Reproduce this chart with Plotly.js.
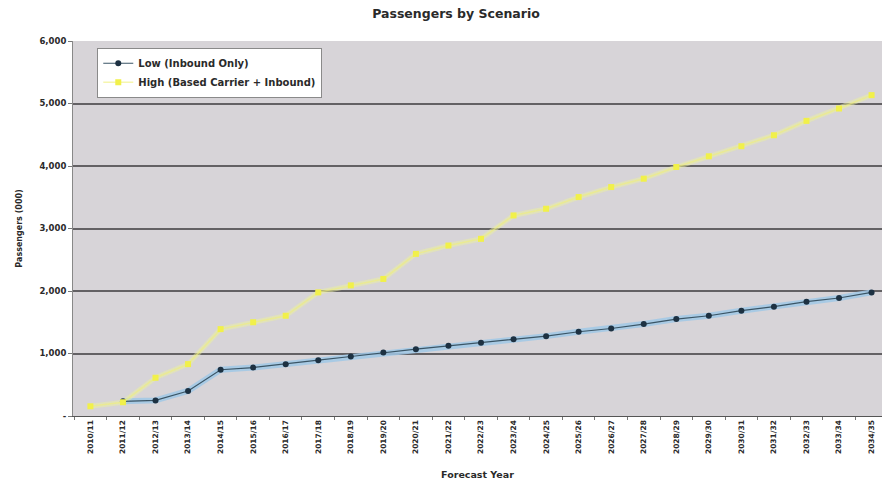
<!DOCTYPE html>
<html>
<head>
<meta charset="utf-8">
<script src="https://cdn.plot.ly/plotly-3.0.1.min.js"></script>
<style>
  html, body { margin: 0; padding: 0; background: #ffffff; overflow: hidden; }
  #chart { width: 882px; height: 486px; }
</style>
</head>
<body>
<div id="chart"></div>
<script>
// Forecast years (fiscal)
const years = [
  '2010/11','2011/12','2012/13','2013/14','2014/15','2015/16','2016/17','2017/18',
  '2018/19','2019/20','2020/21','2021/22','2022/23','2023/24','2024/25','2025/26',
  '2026/27','2027/28','2028/29','2029/30','2030/31','2031/32','2032/33','2033/34','2034/35'
];

// Passengers (000) – Low scenario (inbound only)
const lowPassengers = [
  null, 235, 250, 400, 740, 775, 830, 893, 952, 1016, 1070, 1123, 1171,
  1230, 1278, 1348, 1400, 1471, 1551, 1604, 1685, 1749, 1829, 1888, 1978
];

// Passengers (000) – High scenario (based carrier + inbound)
const highPassengers = [
  155, 220, 612, 830, 1390, 1500, 1604, 1978, 2090, 2193, 2594, 2727, 2835,
  3209, 3316, 3503, 3663, 3797, 3984, 4155, 4316, 4492, 4722, 4920, 5134
];

const seriesNames = ['Low (Inbound Only)', 'High (Based Carrier + Inbound)'];

const yTickVals = [0, 1000, 2000, 3000, 4000, 5000, 6000];
const yTickText = ['-', '1,000', '2,000', '3,000', '4,000', '5,000', '6,000'];

const FAMILY = 'DejaVu Sans, Liberation Sans, Arial, sans-serif';
const font = (size) => ({ family: FAMILY, size: size, color: '#2a2a2a', weight: 'bold' });

const traces = [
  // soft halo under the low line
  {
    x: years, y: lowPassengers, type: 'scatter', mode: 'lines',
    line: { color: 'rgba(160,200,230,0.85)', width: 6 },
    hoverinfo: 'skip', showlegend: false
  },
  // soft halo under the high line
  {
    x: years, y: highPassengers, type: 'scatter', mode: 'lines',
    line: { color: 'rgba(235,240,160,0.5)', width: 5 },
    hoverinfo: 'skip', showlegend: false
  },
  {
    x: years, y: lowPassengers, type: 'scatter', mode: 'lines+markers',
    name: seriesNames[0],
    line: { color: '#3a5566', width: 1.2 },
    marker: { symbol: 'circle', size: 6, color: '#1d3142' }
  },
  {
    x: years, y: highPassengers, type: 'scatter', mode: 'lines+markers',
    name: seriesNames[1],
    line: { color: 'rgba(240,240,120,0.6)', width: 1.5 },
    marker: { symbol: 'square', size: 6, color: '#f1f04a' }
  }
];

const layout = {
  width: 882, height: 486,
  margin: { l: 73, r: 0, t: 41, b: 70 },
  paper_bgcolor: '#ffffff',
  plot_bgcolor: '#d7d4d8',
  font: font(9),
  showlegend: true,
  title: {
    text: 'Passengers by Scenario',
    font: font(12.5),
    x: 0.517, xref: 'container', xanchor: 'center',
    y: 0.972, yref: 'container', yanchor: 'middle'
  },
  xaxis: {
    type: 'category',
    range: [-0.535, 24.32],
    tickangle: -90,
    tickfont: font(7.5),
    showgrid: false,
    showline: true, linecolor: '#555', linewidth: 1,
    ticks: 'outside', ticklen: 3, tickcolor: '#777', tickson: 'boundaries',
    title: { text: 'Forecast Year', font: font(9.5), standoff: 18 },
    zeroline: false, fixedrange: true
  },
  yaxis: {
    range: [0, 6000],
    tickvals: yTickVals, ticktext: yTickText,
    tickfont: font(8.5),
    showgrid: true, gridcolor: '#636164', gridwidth: 2,
    showline: true, linecolor: '#888', linewidth: 1,
    ticks: 'outside', ticklen: 4, tickcolor: '#777',
    zeroline: false,
    title: { text: 'Passengers (000)', font: font(8), standoff: 15 },
    fixedrange: true
  },
  legend: {
    x: 0.03, y: 0.982, xanchor: 'left', yanchor: 'top',
    bgcolor: '#ffffff', bordercolor: '#8a8a8a', borderwidth: 1,
    font: font(10), tracegroupgap: 0, itemwidth: 30
  }
};

Plotly.newPlot('chart', traces, layout, { displayModeBar: false, staticPlot: true });
</script>
</body>
</html>
